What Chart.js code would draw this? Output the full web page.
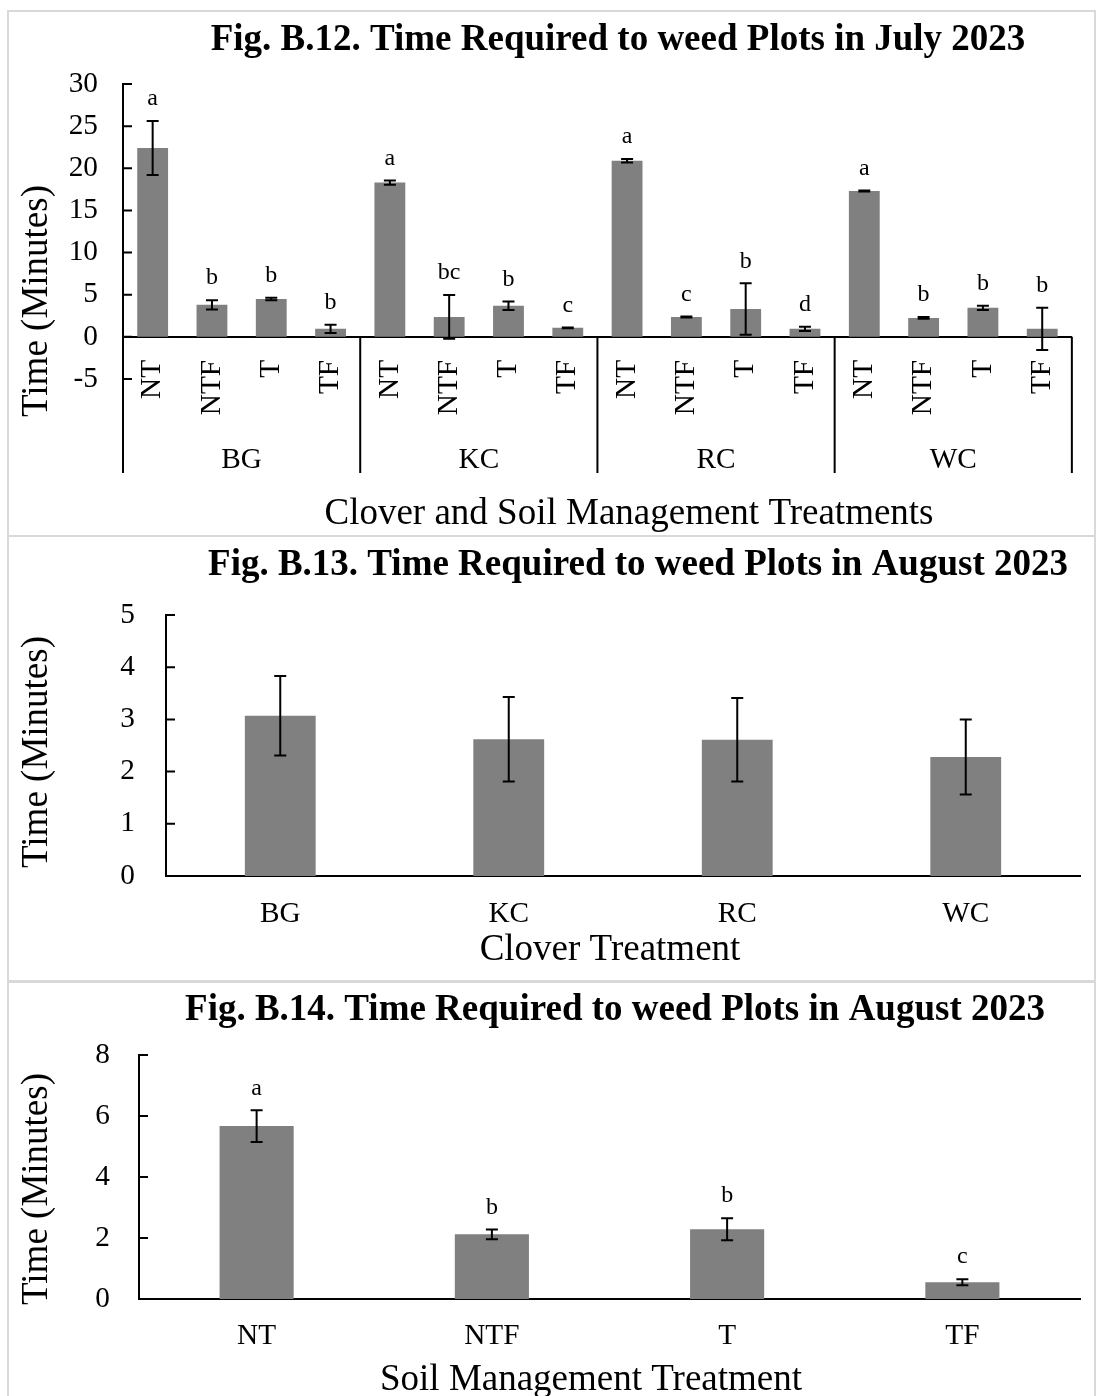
<!DOCTYPE html>
<html>
<head>
<meta charset="utf-8">
<title>Time Required to Weed Plots, 2023</title>
<script src="https://cdn.jsdelivr.net/npm/chart.js@4.4.1/dist/chart.umd.min.js"></script>
<style>
  html, body { margin: 0; padding: 0; background: #fff; }
  body { position: relative; width: 1101px; height: 1396px; overflow: hidden; }
  .frame { position: absolute; left: 7px; width: 1089px; border: 2px solid #d9d9d9; box-sizing: border-box; }
  canvas { position: absolute; left: 0; }
</style>
</head>
<body>
<div class="frame" style="top:10px;height:527px"></div>
<div class="frame" style="top:535px;height:448px"></div>
<div class="frame" style="top:980px;height:440px"></div>
<canvas id="julyChart" width="1101" height="535" style="top:0"></canvas>
<canvas id="cloverChart" width="1101" height="444" style="top:537px"></canvas>
<canvas id="soilChart" width="1101" height="414" style="top:982px"></canvas>
<script>
// ---- data ----
const cloverTreatments = ['BG', 'KC', 'RC', 'WC'];
const soilTreatments = ['NT', 'NTF', 'T', 'TF'];

// Fig. B.12 (July 2023): clover x soil management, mean minutes and standard error
const julyMeans  = [22.4, 3.8, 4.5, 0.95,  18.3, 2.37, 3.7, 1.07,  20.9, 2.37, 3.3, 0.95,  17.3, 2.25, 3.45, 0.95];
const julyErrors = [3.2, 0.55, 0.15, 0.5,  0.25, 2.6, 0.5, 0.05,   0.2, 0.06, 3.05, 0.25,  0.06, 0.1, 0.25, 2.5];
const julyLetters = ['a', 'b', 'b', 'b',  'a', 'bc', 'b', 'c',  'a', 'c', 'b', 'd',  'a', 'b', 'b', 'b'];

// Fig. B.13 (August 2023): clover treatment means
const cloverMeans  = [3.07, 2.62, 2.61, 2.28];
const cloverErrors = [0.76, 0.81, 0.8, 0.72];

// Fig. B.14 (August 2023): soil management means
const soilMeans   = [5.67, 2.12, 2.29, 0.55];
const soilErrors  = [0.52, 0.16, 0.36, 0.1];
const soilLetters = ['a', 'b', 'b', 'c'];

// y-axis tick settings
const julyTicks   = { min: -5, max: 30, step: 5 };
const cloverTicks = { min: 0, max: 5, step: 1 };
const soilTicks   = { min: 0, max: 8, step: 2 };

// ---- drawing ----
const SERIF = "'Liberation Serif', 'Times New Roman', serif";
const BAR_GREY = '#808080';
Chart.defaults.font.family = SERIF;
Chart.defaults.color = '#000';

function text(ctx, str, x, y, size, bold, rotate) {
  ctx.save();
  ctx.font = (bold ? 'bold ' : '') + size + 'px ' + SERIF;
  ctx.fillStyle = '#000';
  ctx.textAlign = 'center';
  ctx.textBaseline = 'middle';
  ctx.translate(x, y);
  if (rotate) ctx.rotate(-Math.PI / 2);
  ctx.fillText(str, 0, 0);
  ctx.restore();
}

// error bars, significance letters, inner tick marks and titles
function annotate(opts) {
  return {
    id: 'annotate',
    afterDatasetsDraw(chart) {
      const ctx = chart.ctx;
      const ys = chart.scales.y;
      const area = chart.chartArea;
      const ds = chart.data.datasets[0];
      const meta = chart.getDatasetMeta(0);
      ctx.save();
      ctx.strokeStyle = '#000';
      ctx.lineWidth = 2;
      meta.data.forEach((bar, i) => {
        const v = ds.data[i], e = opts.errors[i];
        const hi = ys.getPixelForValue(v + e);
        const lo = ys.getPixelForValue(v - e);
        ctx.beginPath();
        ctx.moveTo(bar.x, hi); ctx.lineTo(bar.x, lo);
        ctx.moveTo(bar.x - 6, hi); ctx.lineTo(bar.x + 6, hi);
        ctx.moveTo(bar.x - 6, lo); ctx.lineTo(bar.x + 6, lo);
        ctx.stroke();
        if (opts.letters) text(ctx, opts.letters[i], bar.x, hi - 22, 24, false, false);
      });
      // tick marks point into the plot area
      ctx.beginPath();
      ys.ticks.forEach(t => {
        const py = ys.getPixelForValue(t.value);
        ctx.moveTo(area.left, py);
        ctx.lineTo(area.left + 9, py);
      });
      ctx.stroke();
      ctx.restore();
    },
    afterDraw(chart) {
      const ctx = chart.ctx;
      if (opts.extra) opts.extra(chart);
      text(ctx, opts.title.text, opts.title.x, opts.title.y, 37, true, false);
      text(ctx, opts.yTitle.text, opts.yTitle.x, opts.yTitle.y, 37, false, true);
      text(ctx, opts.xTitle.text, opts.xTitle.x, opts.xTitle.y, 37, false, false);
    }
  };
}

function yScale(t, padding, width) {
  return {
    min: t.min, max: t.max,
    ticks: { stepSize: t.step, color: '#000', font: { family: SERIF, size: 29.3 }, padding: padding },
    grid: { display: false, drawTicks: false },
    border: { display: true, color: '#000', width: 2 },
    afterFit(s) { s.width = width; }
  };
}

// Fig. B.12 — grouped categories: soil treatment within clover treatment
const julyLabels = cloverTreatments.flatMap(() => soilTreatments);
new Chart(document.getElementById('julyChart'), {
  type: 'bar',
  data: {
    labels: julyLabels,
    datasets: [{ data: julyMeans, backgroundColor: BAR_GREY, borderWidth: 0, categoryPercentage: 1, barPercentage: 0.52 }]
  },
  options: {
    responsive: false, animation: false, events: [],
    layout: { padding: { left: 0, right: 20, top: 84, bottom: 156 } },
    plugins: { legend: { display: false }, tooltip: { enabled: false }, title: { display: false } },
    scales: {
      x: {
        type: 'category', position: { y: 0 },
        grid: { display: false, drawTicks: false },
        border: { display: true, color: '#000', width: 2 },
        ticks: { color: '#000', font: { family: SERIF, size: 29.3 }, minRotation: 90, maxRotation: 90, autoSkip: false, padding: 23 }
      },
      y: yScale(julyTicks, 25, 123)
    }
  },
  plugins: [annotate({
    errors: julyErrors,
    letters: julyLetters,
    title: { text: 'Fig. B.12. Time Required to weed Plots in July 2023', x: 618, y: 40 },
    yTitle: { text: 'Time (Minutes)', x: 37, y: 301 },
    xTitle: { text: 'Clover and Soil Management Treatments', x: 629, y: 514 },
    extra(chart) {
      const ctx = chart.ctx, xs = chart.scales.x, ys = chart.scales.y, area = chart.chartArea;
      const zero = ys.getPixelForValue(0);
      const foot = area.bottom + 94;
      const n = soilTreatments.length;
      ctx.save();
      ctx.strokeStyle = '#000';
      ctx.lineWidth = 2;
      ctx.beginPath();
      ctx.moveTo(area.left, area.bottom); ctx.lineTo(area.left, foot);
      for (let g = 1; g <= cloverTreatments.length; g++) {
        const px = xs.getPixelForValue(g * n - 0.5);
        ctx.moveTo(px, zero); ctx.lineTo(px, foot);
      }
      ctx.stroke();
      ctx.restore();
      cloverTreatments.forEach((c, g) => {
        text(ctx, c, xs.getPixelForValue(g * n + (n - 1) / 2), area.bottom + 81, 29.3, false, false);
      });
    }
  })]
});

// Fig. B.13 — clover treatment
new Chart(document.getElementById('cloverChart'), {
  type: 'bar',
  data: {
    labels: cloverTreatments,
    datasets: [{ data: cloverMeans, backgroundColor: BAR_GREY, borderWidth: 0, categoryPercentage: 1, barPercentage: 0.31 }]
  },
  options: {
    responsive: false, animation: false, events: [],
    layout: { padding: { left: 0, right: 21, top: 78, bottom: 0 } },
    plugins: { legend: { display: false }, tooltip: { enabled: false }, title: { display: false } },
    scales: {
      x: {
        grid: { display: false, drawTicks: false },
        border: { display: true, color: '#000', width: 2 },
        ticks: { color: '#000', font: { family: SERIF, size: 29.3 }, maxRotation: 0, padding: 21 },
        afterFit(s) { s.height = 105; }
      },
      y: yScale(cloverTicks, 31, 166)
    }
  },
  plugins: [annotate({
    errors: cloverErrors,
    title: { text: 'Fig. B.13. Time Required to weed Plots in August 2023', x: 638, y: 28 },
    yTitle: { text: 'Time (Minutes)', x: 37, y: 215 },
    xTitle: { text: 'Clover Treatment', x: 610, y: 413 }
  })]
});

// Fig. B.14 — soil management treatment
new Chart(document.getElementById('soilChart'), {
  type: 'bar',
  data: {
    labels: soilTreatments,
    datasets: [{ data: soilMeans, backgroundColor: BAR_GREY, borderWidth: 0, categoryPercentage: 1, barPercentage: 0.315 }]
  },
  options: {
    responsive: false, animation: false, events: [],
    layout: { padding: { left: 0, right: 21, top: 73, bottom: 0 } },
    plugins: { legend: { display: false }, tooltip: { enabled: false }, title: { display: false } },
    scales: {
      x: {
        grid: { display: false, drawTicks: false },
        border: { display: true, color: '#000', width: 2 },
        ticks: { color: '#000', font: { family: SERIF, size: 29.3 }, maxRotation: 0, padding: 20 },
        afterFit(s) { s.height = 97; }
      },
      y: yScale(soilTicks, 29, 139)
    }
  },
  plugins: [annotate({
    errors: soilErrors,
    letters: soilLetters,
    title: { text: 'Fig. B.14. Time Required to weed Plots in August 2023', x: 615, y: 28 },
    yTitle: { text: 'Time (Minutes)', x: 37, y: 207 },
    xTitle: { text: 'Soil Management Treatment', x: 591, y: 398 }
  })]
});
</script>
</body>
</html>
